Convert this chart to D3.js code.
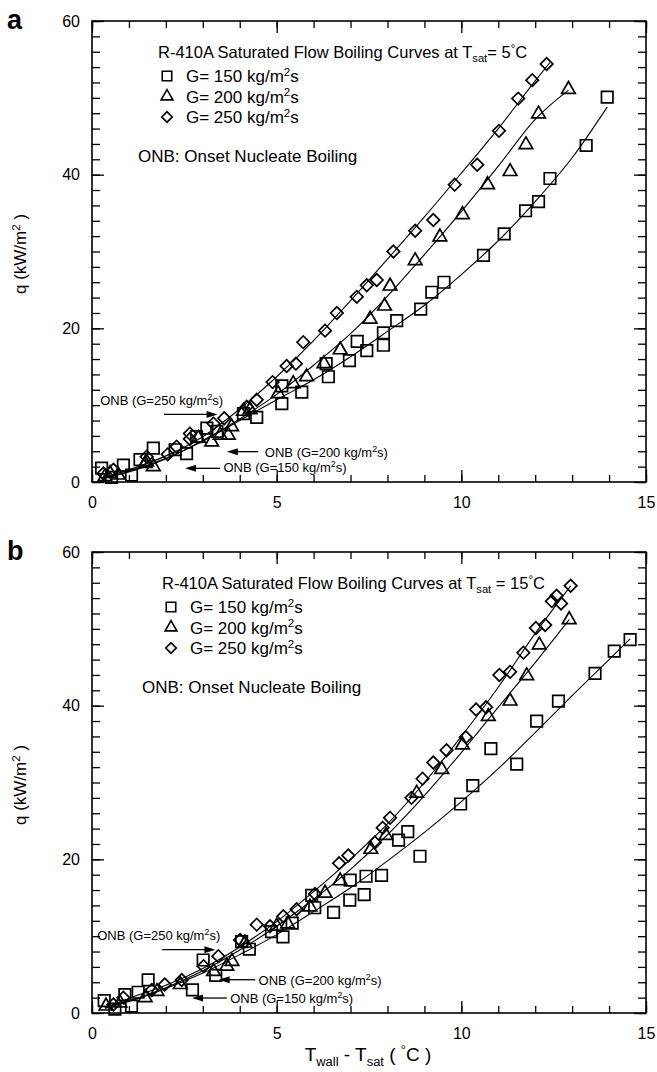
<!DOCTYPE html>
<html>
<head>
<meta charset="utf-8">
<script src="https://cdn.jsdelivr.net/npm/d3@7"></script>
<style>
  body { margin: 0; background: #fff; }
  svg { display: block; font-family: "Liberation Sans", Arial, Helvetica, sans-serif; }
</style>
</head>
<body>
<svg id="chart" width="657" height="1072"></svg>
<script>

// ******************* Data ******************* //
// x = Twall - Tsat (C), y = q (kW/m2)

// panel a : Tsat = 5 C
var a150 = [[0.26,1.8],[0.53,0.6],[0.85,2.2],[1.07,0.9],[1.30,2.9],[1.66,4.4],[2.25,4.2],[2.56,3.7],
  [2.83,5.9],[3.11,7.0],[3.38,6.6],[4.10,8.9],[4.46,8.4],[5.14,10.2],[5.14,12.5],[5.68,11.7],[6.34,15.4],
  [6.40,13.7],[6.97,15.8],[7.18,18.3],[7.44,17.1],[7.89,19.4],[7.89,17.8],[8.25,21.0],[8.90,22.5],
  [9.20,24.7],[9.53,26.0],[10.60,29.5],[11.16,32.3],[11.74,35.3],[12.09,36.5],[12.40,39.5],[13.38,43.8],[13.95,50.1]];
var a200 = [[0.35,0.7],[0.49,1.1],[0.71,0.9],[1.44,2.4],[1.48,2.6],[1.66,2.0],[2.88,5.7],[3.24,5.2],
  [3.47,6.1],[3.69,6.1],[3.78,7.2],[4.10,9.2],[4.28,9.4],[5.04,11.5],[5.45,12.8],[5.81,13.7],[6.28,15.4],
  [6.72,17.2],[7.53,21.2],[7.92,22.9],[8.07,25.5],[8.75,28.8],[9.42,31.9],[10.03,34.8],[10.71,38.7],
  [11.32,40.4],[11.75,43.9],[12.09,47.9],[12.90,51.1]];
var a250 = [[0.31,1.1],[0.58,1.6],[1.48,3.3],[2.05,3.6],[2.29,4.6],[2.65,5.6],[2.65,6.3],[3.29,7.6],
  [3.58,8.3],[4.19,9.8],[4.46,10.7],[4.89,13.0],[5.27,15.1],[5.52,15.4],[5.72,18.2],[6.31,19.7],
  [6.63,22.0],[7.17,24.1],[7.44,25.6],[7.71,26.3],[8.16,30.0],[8.75,32.7],[9.24,34.1],[9.82,38.7],
  [10.43,41.3],[11.02,45.7],[11.54,49.9],[11.92,52.3],[12.31,54.4]];

// fitted curves, panel a
var a150Fit = [[0.3,0.5],[1,1.4],[2,3.1],[3,5.3],[4,8.0],[5,10.7],[6,13.3],[7,16.3],[8,19.6],
  [9,23.0],[10,27.0],[11,31.4],[12,36.5],[13,42.2],[13.95,48.8]];
var a200Fit = [[0.3,0.5],[1,1.3],[2,3.0],[3,5.4],[4,8.2],[5,11.4],[6,15.2],[7,19.3],[8,24.2],
  [9,29.6],[10,35.2],[11,41.1],[12,47.2],[12.9,51.0]];
var a250Fit = [[0.3,0.6],[1,1.6],[2,3.4],[3,5.9],[4,9.5],[5,13.7],[6,18.4],[7,23.6],[8,29.0],
  [9,34.5],[10,40.2],[11,46.0],[12,52.2],[12.4,54.6]];

// panel b : Tsat = 15 C
var b150 = [[0.33,1.6],[0.62,0.5],[0.89,2.4],[1.07,0.9],[1.25,2.7],[1.52,4.3],[2.72,3.0],[3.01,6.9],
  [3.35,4.9],[4.05,9.3],[4.26,8.3],[4.86,10.6],[5.17,9.9],[5.42,11.7],[5.95,15.3],[6.03,13.7],[6.54,13.1],
  [6.98,14.7],[6.99,17.3],[7.37,15.4],[7.42,17.8],[7.84,17.9],[8.30,22.5],[8.55,23.6],[8.88,20.4],
  [9.98,27.2],[10.31,29.6],[10.80,34.4],[11.50,32.4],[12.04,38.0],[12.63,40.6],[13.62,44.2],
  [14.14,47.1],[14.57,48.6]];
var b200 = [[0.38,0.9],[0.76,1.3],[1.44,2.0],[1.76,2.8],[2.39,3.7],[3.29,5.4],[3.65,6.1],[3.79,6.7],
  [4.14,9.1],[5.0,11.3],[5.30,11.6],[5.9,13.8],[6.31,15.6],[6.72,17.2],[7.55,21.3],[7.96,23.1],
  [8.79,28.6],[9.47,31.7],[10.03,34.9],[10.73,38.6],[11.32,40.6],[11.77,43.9],[12.11,47.9],[12.92,51.2]];
var b250 = [[0.58,1.1],[0.85,2.0],[1.62,3.0],[1.97,3.7],[2.43,4.3],[3.02,6.1],[3.42,7.4],[4.01,9.5],
  [4.46,11.5],[4.82,11.3],[5.18,12.6],[5.54,13.5],[6.04,15.5],[6.69,19.5],[6.94,20.5],[7.66,22.2],
  [7.87,24.1],[8.07,25.4],[8.65,28.0],[8.95,30.5],[9.24,32.6],[9.60,34.2],[10.12,35.9],[10.40,39.5],
  [10.67,39.8],[11.03,44.0],[11.32,44.4],[11.68,46.9],[12.02,50.1],[12.27,50.5],[12.45,53.6],
  [12.58,54.3],[12.70,53.3],[12.96,55.6]];

// fitted curves, panel b
var b150Fit = [[0.35,0.6],[1,1.5],[2,3.2],[3,5.2],[4,7.6],[5,10.2],[6,13.2],[7,16.3],[8,19.8],
  [9,23.5],[10,27.5],[11,31.8],[12,36.5],[13,41.3],[14,46.0],[14.57,48.7]];
var b200Fit = [[0.35,0.7],[1,1.6],[2,3.3],[3,5.5],[4,8.2],[5,11.3],[6,14.8],[7,18.7],[8,23.2],
  [9,28.3],[10,33.9],[11,39.8],[12,45.6],[12.92,51.2]];
var b250Fit = [[0.4,0.8],[1,1.9],[2,3.6],[3,5.8],[4,8.6],[5,11.9],[6,15.8],[7,20.0],[8,24.6],
  [9,30.0],[10,36.0],[11,42.4],[12,49.4],[12.96,55.6]];

// ONB annotations: [text x, text y, arrow tail x, arrow tip x, arrow y] in data units
var aOnb = [[0.22,10.0,1.95,3.40,8.8],[4.68,3.3,4.50,3.65,3.95],[3.56,1.26,3.47,2.52,1.78]];
var bOnb = [[0.14,9.45,1.90,3.34,8.24],[4.51,3.7,4.42,3.43,4.33],[3.74,1.3,3.65,2.71,1.95]];
var onbG = ["250", "200", "150"];

var legendG = ["150", "200", "250"];
var xMajor = [0, 5, 10, 15];
var yMajor = [0, 20, 40, 60];


// ******************* Set Up ******************* //
var svg = d3.select("#chart");

var x0 = 92, x1 = 646;
var panelH = 461;

function symFor(k) {
  if (k === 0) return d3.symbol().type(d3.symbolSquare).size(132)();
  if (k === 1) return d3.symbol().type(d3.symbolTriangle).size(80)();
  return d3.symbol().type(d3.symbolSquare).size(78)();
}

// text with sub/superscripts: parts = [[text, "sub"|"sup"|null], ...]
function richText(sel, parts, size) {
  var prev = 0;
  parts.forEach(function(p) {
    var shift = p[1] === "sub" ? size * 0.25 : p[1] === "sup" ? -size * 0.38 : 0;
    sel.append("tspan")
      .attr("dy", shift - prev)
      .attr("font-size", p[1] ? size * 0.68 : size)
      .text(p[0]);
    prev = shift;
  });
}

function drawPanel(cfg) {

  var top = cfg.top;
  var g = svg.append("g");

  var xScale = d3.scaleLinear().domain([0, 15]).range([x0, x1]);
  var yScale = d3.scaleLinear().domain([0, 60]).range([top + panelH, top]);

  // axes, all ticks inward
  g.append("g").attr("transform", "translate(0," + (top + panelH) + ")")
    .call(d3.axisBottom(xScale).tickValues(d3.range(0, 16, 1)).tickSize(-7).tickFormat(""));
  g.append("g").attr("transform", "translate(0," + (top + panelH) + ")")
    .call(d3.axisBottom(xScale).tickValues(xMajor).tickSize(-12).tickPadding(15).tickFormat(d3.format("d")));
  g.append("g").attr("transform", "translate(0," + top + ")")
    .call(d3.axisTop(xScale).tickValues(d3.range(0, 16, 1)).tickSize(-7).tickFormat(""));
  g.append("g").attr("transform", "translate(0," + top + ")")
    .call(d3.axisTop(xScale).tickValues(xMajor).tickSize(-12).tickFormat(""));

  g.append("g").attr("transform", "translate(" + x0 + ",0)")
    .call(d3.axisLeft(yScale).tickValues(d3.range(0, 61, 2)).tickSize(-8).tickFormat(""));
  g.append("g").attr("transform", "translate(" + x0 + ",0)")
    .call(d3.axisLeft(yScale).tickValues(yMajor).tickSize(-12).tickPadding(12).tickFormat(d3.format("d")));
  g.append("g").attr("transform", "translate(" + x1 + ",0)")
    .call(d3.axisRight(yScale).tickValues(d3.range(0, 61, 2)).tickSize(-8).tickFormat(""));
  g.append("g").attr("transform", "translate(" + x1 + ",0)")
    .call(d3.axisRight(yScale).tickValues(yMajor).tickSize(-12).tickFormat(""));

  g.selectAll(".domain").remove();
  g.selectAll(".tick line").attr("stroke", "#000").attr("stroke-width", 1.3);
  g.selectAll(".tick text")
    .attr("font-size", 16)
    .attr("font-family", "\"Liberation Sans\", Arial, sans-serif")
    .attr("fill", "#000");

  g.append("rect")
    .attr("x", x0).attr("y", top)
    .attr("width", x1 - x0).attr("height", panelH)
    .attr("fill", "none").attr("stroke", "#000").attr("stroke-width", 1.6);

  // fitted lines
  var line = d3.line()
    .x(d => xScale(d[0]))
    .y(d => yScale(d[1]))
    .curve(d3.curveMonotoneX);

  cfg.fits.forEach(function(f) {
    g.append("path")
      .attr("d", line(f))
      .attr("fill", "none")
      .attr("stroke", "#000")
      .attr("stroke-width", 1.1);
  });

  // markers
  cfg.series.forEach(function(s, k) {
    g.selectAll(".m" + k)
      .data(s)
      .enter()
      .append("path")
        .classed("m" + k, true)
        .attr("d", symFor(k))
        .attr("transform", d => "translate(" + xScale(d[0]) + "," + yScale(d[1]) + ")" + (k === 2 ? " rotate(45)" : ""))
        .attr("fill", "none")
        .attr("stroke", "#000")
        .attr("stroke-width", 1.7);
  });

  // legend
  var lx = cfg.legendX;
  var title = g.append("text").attr("x", lx).attr("y", top + 37).attr("fill", "#000");
  richText(title, cfg.title, 16.5);

  legendG.forEach(function(val, k) {
    var yy = top + 61 + k * 20.5;
    g.append("path")
      .attr("d", k === 0 ? d3.symbol().type(d3.symbolSquare).size(90)() :
                 k === 1 ? d3.symbol().type(d3.symbolTriangle).size(60)() :
                           d3.symbol().type(d3.symbolSquare).size(55)())
      .attr("transform", "translate(" + (lx + 9) + "," + (yy - 6) + ")" + (k === 2 ? " rotate(45)" : ""))
      .attr("fill", "none")
      .attr("stroke", "#000")
      .attr("stroke-width", 1.6);
    var t = g.append("text").attr("x", lx + 28).attr("y", yy).attr("fill", "#000");
    richText(t, [["G= " + val + " kg/m", null], ["2", "sup"], ["s", null]], 17);
  });

  g.append("text")
    .attr("x", lx - 20).attr("y", top + 141)
    .attr("font-size", 17)
    .text("ONB: Onset Nucleate Boiling");

  // ONB arrows
  cfg.onb.forEach(function(o, k) {
    var t = g.append("text")
      .attr("x", xScale(o[0])).attr("y", yScale(o[1])).attr("fill", "#000");
    richText(t, [["ONB (G=" + onbG[k] + " kg/m", null], ["2", "sup"], ["s)", null]], 13);

    var dir = o[3] > o[2] ? 1 : -1;
    var tip = xScale(o[3]), yy = yScale(o[4]);
    g.append("line")
      .attr("x1", xScale(o[2])).attr("x2", tip - dir * 8)
      .attr("y1", yy).attr("y2", yy)
      .attr("stroke", "#000").attr("stroke-width", 1.3);
    g.append("path")
      .attr("d", "M" + tip + "," + yy + "L" + (tip - dir * 11) + "," + (yy - 3.5) + "L" + (tip - dir * 11) + "," + (yy + 3.5) + "Z")
      .attr("fill", "#000");
  });

  // y label
  var yl = g.append("text")
    .attr("transform", "translate(26," + (top + 233) + ") rotate(-90)")
    .attr("text-anchor", "middle")
    .attr("fill", "#000");
  richText(yl, [["q (kW/m", null], ["2", "sup"], [" )", null]], 17);

  // panel letter
  g.append("text")
    .attr("x", 7).attr("y", top + 8)
    .attr("font-size", 27)
    .attr("font-weight", "bold")
    .text(cfg.letter);
}

drawPanel({
  top: 21,
  letter: "a",
  legendX: 158,
  series: [a150, a200, a250],
  fits: [a150Fit, a200Fit, a250Fit],
  onb: aOnb,
  title: [["R-410A Saturated Flow Boiling Curves at T", null], ["sat", "sub"], ["= 5", null], ["°", "sup"], ["C", null]]
});

drawPanel({
  top: 552,
  letter: "b",
  legendX: 162,
  series: [b150, b200, b250],
  fits: [b150Fit, b200Fit, b250Fit],
  onb: bOnb,
  title: [["R-410A Saturated Flow Boiling Curves at T", null], ["sat", "sub"], [" = 15", null], ["°", "sup"], ["C", null]]
});

// x axis title
var xt = svg.append("text")
  .attr("x", 368).attr("y", 1061)
  .attr("text-anchor", "middle")
  .attr("fill", "#000");
richText(xt, [["T", null], ["wall", "sub"], [" - T", null], ["sat", "sub"], [" ( ", null], ["°", "sup"], ["C )", null]], 19);

</script>
</body>
</html>
